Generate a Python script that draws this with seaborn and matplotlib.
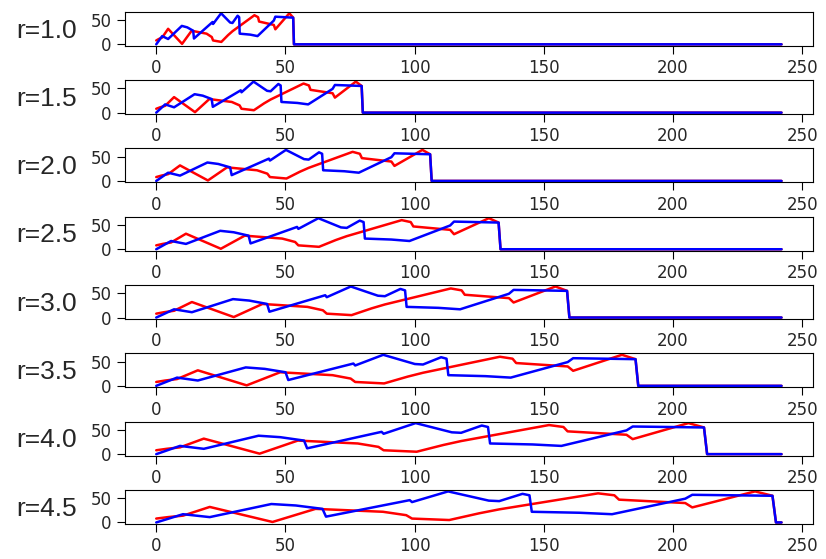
import matplotlib
matplotlib.use("Agg")
import matplotlib.pyplot as plt
import seaborn as sns

# r values, one panel each
r_values = [1.0, 1.5, 2.0, 2.5, 3.0, 3.5, 4.0, 4.5]
x_end = 242

# base trajectory (time at r=1)
red_t = [0, 1.0, 2.3, 4.6, 10.0, 13.7, 16.6, 19.5, 21.5, 22.0, 25.2, 27.8,
         29.5, 38.0, 39.4, 39.8, 45.5, 46.1, 51.5, 53.0, 53.3]
red_v = [8, 11, 14, 32, 1, 28, 25, 22, 15, 8, 5, 19,
         27, 60, 56, 47, 40, 31, 64, 55, 0]

blue_t = [0, 2.3, 4.6, 9.9, 12.0, 14.3, 14.6, 21.8, 22.0, 25.1, 28.6, 29.5,
          31.5, 32.1, 32.3, 36.4, 39.2, 45.5, 46.1, 53.0, 53.3]
blue_v = [0, 17, 11, 38, 35, 28, 12, 46, 42, 64, 45, 44,
          59, 56, 22, 20, 17, 49, 57, 55, 0]

sns.set_style("ticks")
plt.rcParams['font.family'] = ['DejaVu Sans']

fig, axes = plt.subplots(len(r_values), 1, figsize=(8.26, 5.59), dpi=100)
fig.subplots_adjust(left=0.1513, right=0.984, top=0.979, bottom=0.0626, hspace=1.0)

for ax, r in zip(axes, r_values):
    rx = [t * r for t in red_t] + [x_end]
    bx = [t * r for t in blue_t] + [x_end]
    sns.lineplot(x=rx, y=red_v + [0], ax=ax, color="red", linewidth=1.8,
                 estimator=None, sort=False)
    sns.lineplot(x=bx, y=blue_v + [0], ax=ax, color="blue", linewidth=1.8,
                 estimator=None, sort=False)
    ax.set_yticks([0, 50])
    ax.set_xticks([0, 50, 100, 150, 200, 250])
    ax.tick_params(labelsize=12, length=5.5, pad=4, color="black")
    for s in ax.spines.values():
        s.set_color("black")
    ax.set_ylabel(f"r={r:.1f}", rotation=0, fontsize=19, ha="right", va="center",
                  family=["Liberation Sans", "DejaVu Sans"])
    ax.yaxis.set_label_coords(-0.07, 0.45)

fig.savefig("out.png", dpi=100)
